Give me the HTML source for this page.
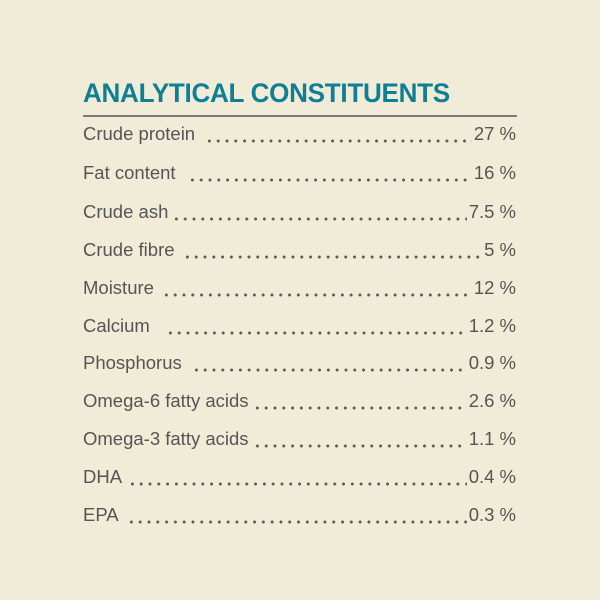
<!DOCTYPE html>
<html><head><meta charset="utf-8"><style>
body{margin:0;width:600px;height:600px;background:#f0ecd7;position:relative;overflow:hidden;font-family:"Liberation Sans",sans-serif}
h1{position:absolute;left:83px;top:78px;margin:0;font-size:27px;font-weight:bold;color:#0f7f95;line-height:30px;white-space:nowrap;transform:scaleX(0.965);transform-origin:left;letter-spacing:-0.3px}
.rule{position:absolute;left:83px;top:115px;width:434px;height:2px;background:#7a7a7a}
.row{position:absolute;left:83px;width:433px;height:22px;display:flex;align-items:flex-end;font-size:18.5px;color:#555;line-height:22px}
.row .f{flex:1;height:22px;margin:0 2px;background:radial-gradient(circle,#5a5a5a 1.3px,transparent 1.7px) 2px 16px/8.8px 4px repeat-x}
</style></head><body>
<h1>ANALYTICAL CONSTITUENTS</h1>
<div class="rule"></div>
<div class="row" style="top:123px"><span>Crude protein</span><span class="f" style="margin-left:8px"></span><span>27 %</span></div>
<div class="row" style="top:162px"><span>Fat content</span><span class="f" style="margin-left:10px"></span><span>16 %</span></div>
<div class="row" style="top:201px"><span>Crude ash</span><span class="f"></span><span>7.5 %</span></div>
<div class="row" style="top:239px"><span>Crude fibre</span><span class="f" style="margin-left:6px"></span><span>5 %</span></div>
<div class="row" style="top:277px"><span>Moisture</span><span class="f" style="margin-left:6px"></span><span>12 %</span></div>
<div class="row" style="top:315px"><span>Calcium</span><span class="f" style="margin-left:14px"></span><span>1.2 %</span></div>
<div class="row" style="top:352px"><span>Phosphorus</span><span class="f" style="margin-left:8px"></span><span>0.9 %</span></div>
<div class="row" style="top:390px"><span>Omega-6 fatty acids</span><span class="f"></span><span>2.6 %</span></div>
<div class="row" style="top:428px"><span>Omega-3 fatty acids</span><span class="f"></span><span>1.1 %</span></div>
<div class="row" style="top:466px"><span>DHA</span><span class="f" style="margin-left:4px"></span><span>0.4 %</span></div>
<div class="row" style="top:504px"><span>EPA</span><span class="f" style="margin-left:6px"></span><span>0.3 %</span></div>
</body></html>
